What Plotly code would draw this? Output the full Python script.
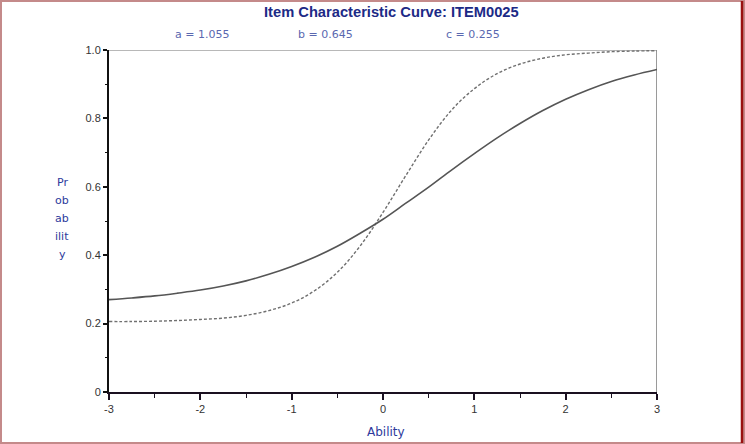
import plotly.graph_objects as go

# ---- data ----
ability = [-3.0, -2.75, -2.5, -2.25, -2.0, -1.75, -1.5, -1.25, -1.0, -0.75, -0.5, -0.25,
           0.0, 0.25, 0.5, 0.75, 1.0, 1.25, 1.5, 1.75, 2.0, 2.25, 2.5, 2.75, 3.0]
model_curve = [0.270, 0.275, 0.281, 0.289, 0.298, 0.310, 0.325, 0.344, 0.367, 0.394, 0.426,
               0.464, 0.505, 0.552, 0.599, 0.649, 0.697, 0.743, 0.785, 0.823, 0.856,
               0.884, 0.908, 0.927, 0.943]
empirical_curve = [0.206, 0.206, 0.207, 0.209, 0.212, 0.216, 0.224, 0.238, 0.260, 0.296, 0.350,
                   0.427, 0.525, 0.633, 0.737, 0.824, 0.887, 0.931, 0.959, 0.976, 0.986,
                   0.991, 0.995, 0.997, 0.998]

title_text = "Item Characteristic Curve: ITEM0025"
param_labels = ["a = 1.055", "b = 0.645", "c = 0.255"]
param_x_px = [202, 325, 473]
ylabel_lines = ["Pr", "ob", "ab", "ilit", "y"]
ylabel_y_px = [183, 200, 218, 236, 254]
xtick_vals = [-3, -2, -1, 0, 1, 2, 3]
xtick_text = ["-3", "-2", "-1", "0", "1", "2", "3"]
ytick_vals = [0, 0.2, 0.4, 0.6, 0.8, 1.0]
ytick_text = ["0", "0.2", "0.4", "0.6", "0.8", "1.0"]

W, H = 745, 444
ML, MR, MT, MB = 109, 88, 50, 52
PW, PH = W - ML - MR, H - MT - MB


def px_to_paper_x(px):
    return (px - ML) / PW


def px_to_paper_y(py):
    return (H - MB - py) / PH


fig = go.Figure()
fig.add_trace(go.Scatter(x=ability, y=empirical_curve, mode="lines",
                         line=dict(color="#707070", width=1.4, dash="3px,2px", shape="spline"),
                         showlegend=False, hoverinfo="skip"))
fig.add_trace(go.Scatter(x=ability, y=model_curve, mode="lines",
                         line=dict(color="#555555", width=1.6, shape="spline"),
                         showlegend=False, hoverinfo="skip"))

axis_font = dict(family="Liberation Sans, Arial, sans-serif", size=11, color="#333333")
label_family = "DejaVu Sans, Verdana, sans-serif"

fig.update_xaxes(range=[-3, 3], tickvals=xtick_vals, ticktext=xtick_text,
                 showgrid=False, zeroline=False, showline=True, linecolor="#1a1020",
                 linewidth=2, ticks="outside", ticklen=6, tickwidth=1.5, tickcolor="#1a1020",
                 tickfont=axis_font,
                 minor=dict(dtick=0.5, tick0=0, ticks="outside", ticklen=4, tickcolor="#1a1020",
                            tickwidth=1.2, showgrid=False))
fig.update_yaxes(range=[0, 1.0], tickvals=ytick_vals, ticktext=ytick_text,
                 showgrid=False, zeroline=False, showline=True, linecolor="#111111",
                 linewidth=2, ticks="outside", ticklen=4, tickwidth=1.5, tickcolor="#111111",
                 tickfont=axis_font,
                 minor=dict(dtick=0.1, tick0=0, ticks="outside", ticklen=2, tickcolor="#111111",
                            tickwidth=1.2, showgrid=False))

shapes = [
    dict(type="line", xref="x", yref="y", x0=-3, x1=3, y0=1.0, y1=1.0,
         line=dict(color="#b8b8b8", width=2), layer="below"),
    dict(type="line", xref="x", yref="y", x0=3, x1=3, y0=0, y1=1.0,
         line=dict(color="#9a9a9a", width=2), layer="below"),
    dict(type="rect", xref="paper", yref="paper",
         x0=px_to_paper_x(1), x1=px_to_paper_x(W - 1),
         y0=px_to_paper_y(H - 1), y1=px_to_paper_y(1),
         line=dict(color="#c48a8a", width=2)),
    dict(type="line", xref="paper", yref="paper",
         x0=px_to_paper_x(W - 3), x1=px_to_paper_x(W - 3),
         y0=px_to_paper_y(H - 1), y1=px_to_paper_y(1),
         line=dict(color="#9a1010", width=2.5)),
]

annotations = []
for lab, px in zip(param_labels, param_x_px):
    annotations.append(dict(text=lab, xref="paper", yref="paper",
                            x=px_to_paper_x(px), y=px_to_paper_y(34),
                            xanchor="center", yanchor="middle", showarrow=False,
                            font=dict(family=label_family, size=11, color="#5a68b0")))
for line_txt, py in zip(ylabel_lines, ylabel_y_px):
    annotations.append(dict(text=line_txt, xref="paper", yref="paper",
                            x=px_to_paper_x(62), y=px_to_paper_y(py),
                            xanchor="center", yanchor="middle", showarrow=False,
                            font=dict(family=label_family, size=11, color="#2c3a9c")))
annotations.append(dict(text="Ability", xref="paper", yref="paper",
                        x=px_to_paper_x(386), y=px_to_paper_y(432),
                        xanchor="center", yanchor="middle", showarrow=False,
                        font=dict(family=label_family, size=12, color="#2c3a9c")))
annotations.append(dict(text="<b>" + title_text + "</b>", xref="paper", yref="paper",
                        x=px_to_paper_x(391), y=px_to_paper_y(12),
                        xanchor="center", yanchor="middle", showarrow=False,
                        font=dict(family="Liberation Sans, Arial, sans-serif", size=14.7,
                                  color="#1c2a86")))

fig.update_layout(width=W, height=H, margin=dict(l=ML, r=MR, t=MT, b=MB, autoexpand=False),
                  paper_bgcolor="white", plot_bgcolor="white",
                  shapes=shapes, annotations=annotations, showlegend=False)

fig.write_html("out.html", config={"displayModeBar": False})
